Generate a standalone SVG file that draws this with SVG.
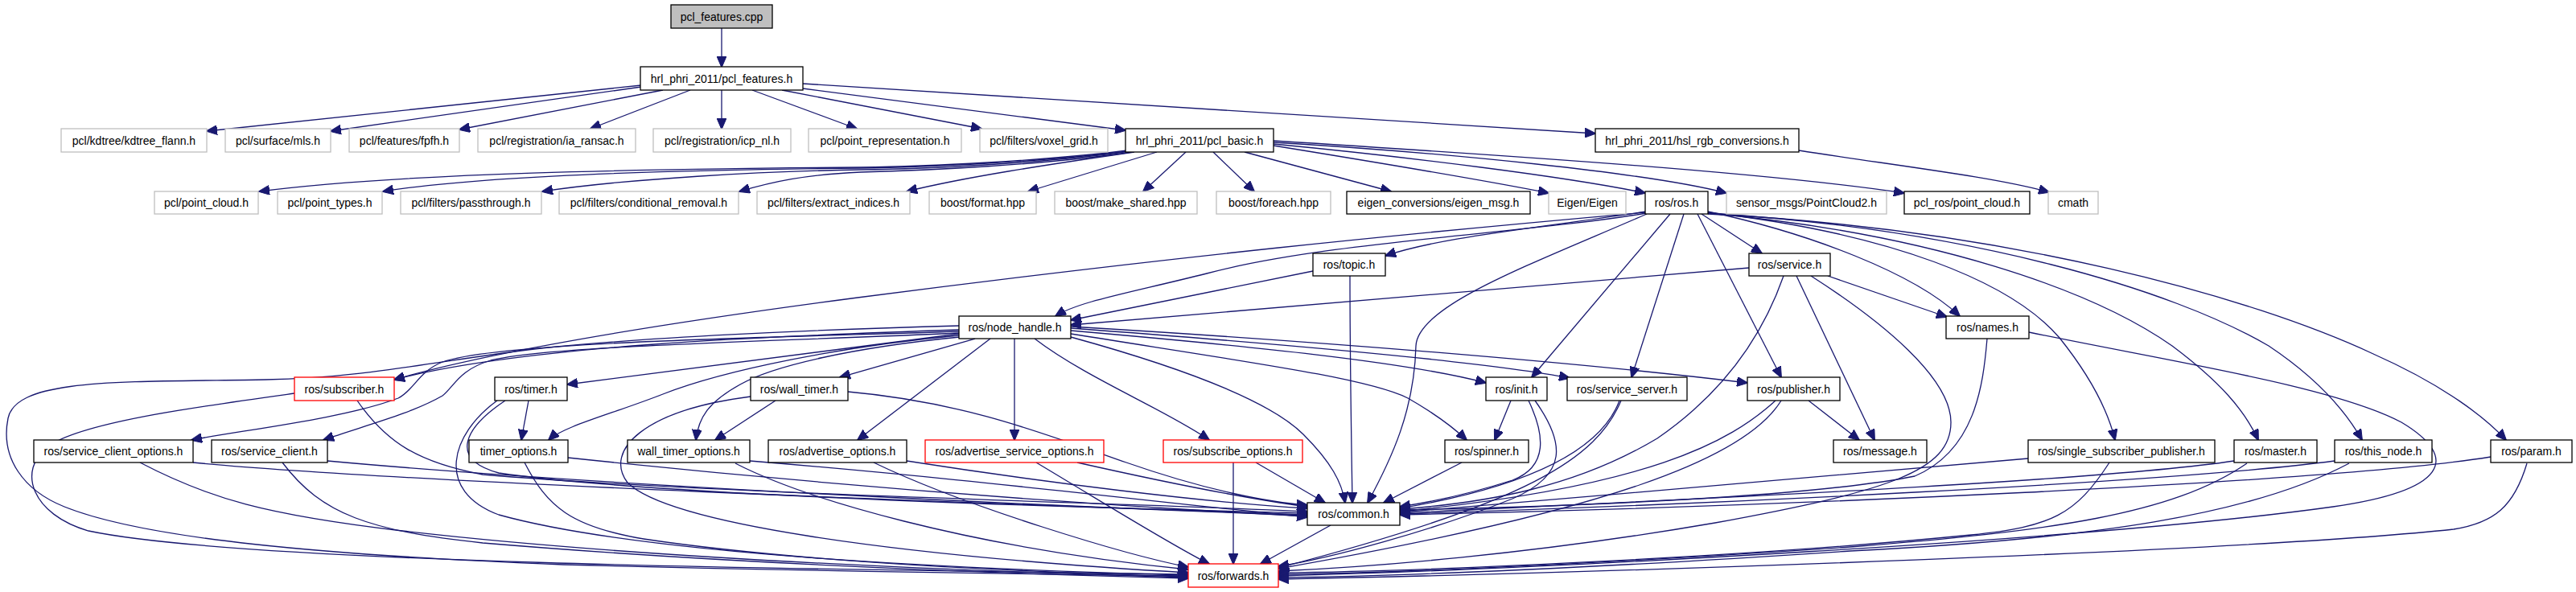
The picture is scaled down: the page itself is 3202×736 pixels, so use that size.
<svg xmlns="http://www.w3.org/2000/svg" width="3202" height="736" viewBox="0 0 3202 736">
<style>
rect.b{fill:#fff;stroke:#000;stroke-width:1.3}
rect.g{fill:#fff;stroke:#bfbfbf;stroke-width:1.3}
rect.r{fill:#fff;stroke:#ff0000;stroke-width:1.3}
rect.root{fill:#bfbfbf;stroke:#000;stroke-width:1.3}
text{font-family:"Liberation Sans",Arial,sans-serif;font-size:14px;text-anchor:middle;fill:#000}
#edges path{fill:none;stroke:#191970;stroke-width:1.3;marker-end:url(#arr)}
</style>
<defs>
<marker id="arr" markerUnits="userSpaceOnUse" markerWidth="14" markerHeight="12" viewBox="0 0 14 12" refX="13" refY="6" orient="auto"><path d="M0,0 L14,6 L0,12 z" fill="#191970" stroke="#191970" stroke-width="1"/></marker>
</defs>
<rect x="0" y="0" width="3202" height="736" fill="#fff"/>
<g id="edges">
<path d="M897,35 L897,83"/>
<path d="M797,106 L257,163"/>
<path d="M797,108 L411,163"/>
<path d="M824,112 L571,161"/>
<path d="M858,112 L734,160"/>
<path d="M897,112 L897,160"/>
<path d="M935,112 L1065,160"/>
<path d="M972,112 L1220,160"/>
<path d="M998,110 L1399,162"/>
<path d="M998,104 L1983,166"/>
<path d="M2236,187 C2350,205 2480,220 2547,239"/>
<path d="M1401,187 C1300,200 1150,207 1070,208 C800,210 500,215 322,238"/>
<path d="M1402,188 C1300,201 1150,208 1070,209 C850,211 600,218 476,238"/>
<path d="M1404,188 C1300,203 1150,210 1070,211 C950,213 780,222 674,238"/>
<path d="M1407,189 C1300,205 1150,212 1070,214 C1000,217 960,226 919,238"/>
<path d="M1410,189 C1300,205 1200,220 1127,238"/>
<path d="M1438,189 L1278,238"/>
<path d="M1474,189 L1421,238"/>
<path d="M1508,189 L1559,238"/>
<path d="M1547,189 L1729,238"/>
<path d="M1583,181 C1700,200 1850,225 1925,240"/>
<path d="M1583,179 C1750,195 1950,220 2045,240"/>
<path d="M1583,177 C1800,190 2050,215 2146,240"/>
<path d="M1583,175 C1900,195 2200,215 2367,240"/>
<path d="M2046,263 C1900,285 1790,295 1722,318"/>
<path d="M2046,265 C1900,290 1650,300 1500,340 C1400,365 1340,375 1312,393"/>
<path d="M2046,264 C1750,290 1450,320 1066,370 C800,405 600,440 490,472"/>
<path d="M2047,266 C1900,330 1762,380 1760,430 C1758,510 1730,570 1700,625"/>
<path d="M2076,266 L1904,469"/>
<path d="M2093,266 L2028,469"/>
<path d="M2110,266 L2214,469"/>
<path d="M2115,266 L2190,315"/>
<path d="M2123,263 C2250,290 2380,340 2436,393"/>
<path d="M2123,264 C2350,290 2500,350 2560,420 C2600,470 2620,510 2629,547"/>
<path d="M2123,265 C2400,290 2600,360 2700,430 C2760,475 2790,510 2807,547"/>
<path d="M2123,265 C2450,285 2700,360 2820,430 C2880,470 2915,510 2936,547"/>
<path d="M2123,266 C2500,285 2800,370 2950,440 C3040,480 3090,520 3115,547"/>
<path d="M1632,337 L1331,398"/>
<path d="M1678,343 C1678,450 1680,560 1681,625"/>
<path d="M2174,333 L1331,404"/>
<path d="M2272,343 L2420,394"/>
<path d="M2233,343 L2330,547"/>
<path d="M2217,343 C2190,420 2140,490 2060,545 C1960,605 1850,625 1740,633"/>
<path d="M2251,343 C2340,400 2425,470 2425,525 C2425,585 2350,610 2132,650 C1900,690 1700,705 1589,710"/>
<path d="M2470,421 C2465,480 2455,560 2380,592 C2250,618 1950,630 1740,634"/>
<path d="M2522,413 C2700,450 2900,480 2985,525 C3060,570 3040,610 2900,630 C2600,672 1900,708 1589,716"/>
<path d="M1192,410 C950,418 650,430 490,472"/>
<path d="M1192,412 C950,420 620,425 550,450 C520,462 515,485 495,495 C430,520 300,535 238,547"/>
<path d="M1192,414 C950,425 680,430 610,448 C570,460 565,480 550,492 C510,515 450,530 402,547"/>
<path d="M1192,415 L705,478"/>
<path d="M1192,417 C1050,430 900,460 824,490 C760,515 700,530 682,547"/>
<path d="M1212,421 L1044,469"/>
<path d="M1193,419 C1060,432 960,455 920,478 C880,500 868,520 865,547"/>
<path d="M1231,421 L1066,547"/>
<path d="M1261,421 L1261,547"/>
<path d="M1286,421 C1350,470 1450,510 1503,547"/>
<path d="M1331,419 C1480,460 1580,500 1620,540 C1655,575 1668,600 1672,625"/>
<path d="M1331,411 C1550,430 1750,450 1847,476"/>
<path d="M1331,408 C1600,428 1850,450 1951,470"/>
<path d="M1331,406 C1700,428 2000,455 2172,476"/>
<path d="M1331,415 C1550,450 1700,470 1750,495 C1785,515 1805,530 1823,547"/>
<path d="M1192,405 C1000,410 800,420 682,432 C560,445 460,470 330,472 C150,475 20,470 10,520 C0,570 30,610 80,630 C180,670 400,690 700,702 C1000,710 1300,714 1477,716"/>
<path d="M444,498 C480,550 520,575 600,590 C900,615 1400,625 1625,636"/>
<path d="M366,489 C250,505 100,525 60,555 C20,585 40,640 110,660 C300,700 1000,708 1477,714"/>
<path d="M657,498 L648,547"/>
<path d="M628,498 C580,530 555,570 620,588 C800,615 1300,630 1625,638"/>
<path d="M618,498 C560,540 540,610 620,640 C800,690 1200,708 1477,715"/>
<path d="M964,498 L889,547"/>
<path d="M1054,487 C1200,500 1300,540 1400,575 C1500,610 1580,625 1625,628"/>
<path d="M933,493 C800,510 750,560 780,600 C830,650 1100,690 1477,712"/>
<path d="M240,575 C500,600 1200,625 1625,640"/>
<path d="M174,575 C260,620 330,640 500,660 C800,695 1200,710 1477,718"/>
<path d="M407,573 C700,600 1200,625 1625,641"/>
<path d="M351,575 C400,640 460,660 600,675 C900,700 1200,712 1477,719"/>
<path d="M706,569 C1000,600 1300,625 1625,642"/>
<path d="M652,575 C680,630 710,655 800,670 C1000,700 1300,712 1477,717"/>
<path d="M932,573 C1200,595 1400,620 1625,643"/>
<path d="M914,576 C1000,620 1200,680 1477,708"/>
<path d="M1127,573 C1300,600 1500,625 1625,632"/>
<path d="M1086,575 C1200,630 1400,690 1477,705"/>
<path d="M1339,575 C1450,600 1550,620 1625,630"/>
<path d="M1288,575 C1380,630 1460,680 1503,701"/>
<path d="M1533,575 L1533,701"/>
<path d="M1561,575 L1647,625"/>
<path d="M1817,575 L1720,625"/>
<path d="M1654,653 L1567,701"/>
<path d="M1878,498 L1858,547"/>
<path d="M1900,498 C1920,540 1925,580 1880,597 C1830,613 1780,624 1740,630"/>
<path d="M1908,498 C1945,550 1950,590 1880,620 C1780,660 1650,695 1589,704"/>
<path d="M2013,498 C1990,560 1900,605 1740,632"/>
<path d="M2015,498 C1985,570 1900,625 1589,706"/>
<path d="M2248,498 L2311,547"/>
<path d="M2207,498 C2150,550 2050,605 1740,636"/>
<path d="M2214,498 C2170,570 2000,635 1589,707"/>
<path d="M2521,570 C2300,590 2000,615 1740,637"/>
<path d="M2622,575 C2580,640 2550,655 2450,665 C2200,690 1800,710 1589,712"/>
<path d="M2777,573 C2600,600 2000,625 1740,638"/>
<path d="M2793,576 C2700,640 2550,660 2300,680 C2000,700 1750,712 1589,714"/>
<path d="M2902,573 C2700,600 2100,628 1740,639"/>
<path d="M2920,576 C2800,640 2600,670 2300,685 C2000,705 1750,716 1589,718"/>
<path d="M3096,568 C2900,600 2200,630 1740,640"/>
<path d="M3141,576 C3125,630 3100,650 3050,658 C2800,685 2000,712 1589,720"/>
</g>
<g id="n0"><rect class="root" x="834" y="6" width="126" height="29"/><text x="897" y="25.5">pcl_features.cpp</text></g>
<g id="n1"><rect class="b" x="796" y="83" width="202" height="29"/><text x="897" y="102.5">hrl_phri_2011/pcl_features.h</text></g>
<g id="n2"><rect class="g" x="76" y="160" width="181" height="29"/><text x="166.5" y="179.5">pcl/kdtree/kdtree_flann.h</text></g>
<g id="n3"><rect class="g" x="280" y="160" width="131" height="29"/><text x="345.5" y="179.5">pcl/surface/mls.h</text></g>
<g id="n4"><rect class="g" x="434" y="160" width="137" height="29"/><text x="502.5" y="179.5">pcl/features/fpfh.h</text></g>
<g id="n5"><rect class="g" x="594" y="160" width="196" height="29"/><text x="692" y="179.5">pcl/registration/ia_ransac.h</text></g>
<g id="n6"><rect class="g" x="812" y="160" width="171" height="29"/><text x="897.5" y="179.5">pcl/registration/icp_nl.h</text></g>
<g id="n7"><rect class="g" x="1005" y="160" width="190" height="29"/><text x="1100" y="179.5">pcl/point_representation.h</text></g>
<g id="n8"><rect class="g" x="1218" y="160" width="159" height="29"/><text x="1297.5" y="179.5">pcl/filters/voxel_grid.h</text></g>
<g id="n9"><rect class="b" x="1399" y="160" width="184" height="29"/><text x="1491" y="179.5">hrl_phri_2011/pcl_basic.h</text></g>
<g id="n10"><rect class="b" x="1983" y="160" width="253" height="29"/><text x="2109.5" y="179.5">hrl_phri_2011/hsl_rgb_conversions.h</text></g>
<g id="n11"><rect class="g" x="192" y="238" width="129" height="28"/><text x="256.5" y="257">pcl/point_cloud.h</text></g>
<g id="n12"><rect class="g" x="345" y="238" width="130" height="28"/><text x="410" y="257">pcl/point_types.h</text></g>
<g id="n13"><rect class="g" x="498" y="238" width="175" height="28"/><text x="585.5" y="257">pcl/filters/passthrough.h</text></g>
<g id="n14"><rect class="g" x="695" y="238" width="223" height="28"/><text x="806.5" y="257">pcl/filters/conditional_removal.h</text></g>
<g id="n15"><rect class="g" x="941" y="238" width="190" height="28"/><text x="1036" y="257">pcl/filters/extract_indices.h</text></g>
<g id="n16"><rect class="g" x="1155" y="238" width="133" height="28"/><text x="1221.5" y="257">boost/format.hpp</text></g>
<g id="n17"><rect class="g" x="1311" y="238" width="177" height="28"/><text x="1399.5" y="257">boost/make_shared.hpp</text></g>
<g id="n18"><rect class="g" x="1512" y="238" width="142" height="28"/><text x="1583" y="257">boost/foreach.hpp</text></g>
<g id="n19"><rect class="b" x="1674" y="238" width="228" height="28"/><text x="1788" y="257">eigen_conversions/eigen_msg.h</text></g>
<g id="n20"><rect class="g" x="1925" y="238" width="96" height="28"/><text x="1973" y="257">Eigen/Eigen</text></g>
<g id="n21"><rect class="b" x="2045" y="238" width="78" height="28"/><text x="2084" y="257">ros/ros.h</text></g>
<g id="n22"><rect class="g" x="2146" y="238" width="199" height="28"/><text x="2245.5" y="257">sensor_msgs/PointCloud2.h</text></g>
<g id="n23"><rect class="b" x="2367" y="238" width="156" height="28"/><text x="2445" y="257">pcl_ros/point_cloud.h</text></g>
<g id="n24"><rect class="g" x="2546" y="238" width="62" height="28"/><text x="2577" y="257">cmath</text></g>
<g id="n25"><rect class="b" x="1632" y="315" width="90" height="28"/><text x="1677" y="334">ros/topic.h</text></g>
<g id="n26"><rect class="b" x="2174" y="315" width="101" height="28"/><text x="2224.5" y="334">ros/service.h</text></g>
<g id="n27"><rect class="b" x="1192" y="393" width="139" height="28"/><text x="1261.5" y="412">ros/node_handle.h</text></g>
<g id="n28"><rect class="b" x="2419" y="393" width="103" height="28"/><text x="2470.5" y="412">ros/names.h</text></g>
<g id="n29"><rect class="r" x="366" y="469" width="124" height="29"/><text x="428" y="488.5">ros/subscriber.h</text></g>
<g id="n30"><rect class="b" x="615" y="469" width="90" height="29"/><text x="660" y="488.5">ros/timer.h</text></g>
<g id="n31"><rect class="b" x="933" y="469" width="121" height="29"/><text x="993.5" y="488.5">ros/wall_timer.h</text></g>
<g id="n32"><rect class="b" x="1847" y="469" width="76" height="29"/><text x="1885" y="488.5">ros/init.h</text></g>
<g id="n33"><rect class="b" x="1948" y="469" width="149" height="29"/><text x="2022.5" y="488.5">ros/service_server.h</text></g>
<g id="n34"><rect class="b" x="2172" y="469" width="115" height="29"/><text x="2229.5" y="488.5">ros/publisher.h</text></g>
<g id="n35"><rect class="b" x="42" y="547" width="198" height="28"/><text x="141" y="566">ros/service_client_options.h</text></g>
<g id="n36"><rect class="b" x="263" y="547" width="144" height="28"/><text x="335" y="566">ros/service_client.h</text></g>
<g id="n37"><rect class="b" x="583" y="547" width="123" height="28"/><text x="644.5" y="566">timer_options.h</text></g>
<g id="n38"><rect class="b" x="780" y="547" width="152" height="28"/><text x="856" y="566">wall_timer_options.h</text></g>
<g id="n39"><rect class="b" x="955" y="547" width="172" height="28"/><text x="1041" y="566">ros/advertise_options.h</text></g>
<g id="n40"><rect class="r" x="1150" y="547" width="222" height="28"/><text x="1261" y="566">ros/advertise_service_options.h</text></g>
<g id="n41"><rect class="r" x="1446" y="547" width="173" height="28"/><text x="1532.5" y="566">ros/subscribe_options.h</text></g>
<g id="n42"><rect class="b" x="1796" y="547" width="104" height="28"/><text x="1848" y="566">ros/spinner.h</text></g>
<g id="n43"><rect class="b" x="2279" y="547" width="116" height="28"/><text x="2337" y="566">ros/message.h</text></g>
<g id="n44"><rect class="b" x="2521" y="547" width="232" height="28"/><text x="2637" y="566">ros/single_subscriber_publisher.h</text></g>
<g id="n45"><rect class="b" x="2777" y="547" width="103" height="28"/><text x="2828.5" y="566">ros/master.h</text></g>
<g id="n46"><rect class="b" x="2902" y="547" width="121" height="28"/><text x="2962.5" y="566">ros/this_node.h</text></g>
<g id="n47"><rect class="b" x="3096" y="547" width="101" height="28"/><text x="3146.5" y="566">ros/param.h</text></g>
<g id="n48"><rect class="b" x="1625" y="625" width="115" height="28"/><text x="1682.5" y="644">ros/common.h</text></g>
<g id="n49"><rect class="r" x="1477" y="701" width="112" height="29"/><text x="1533" y="720.5">ros/forwards.h</text></g>
</svg>
